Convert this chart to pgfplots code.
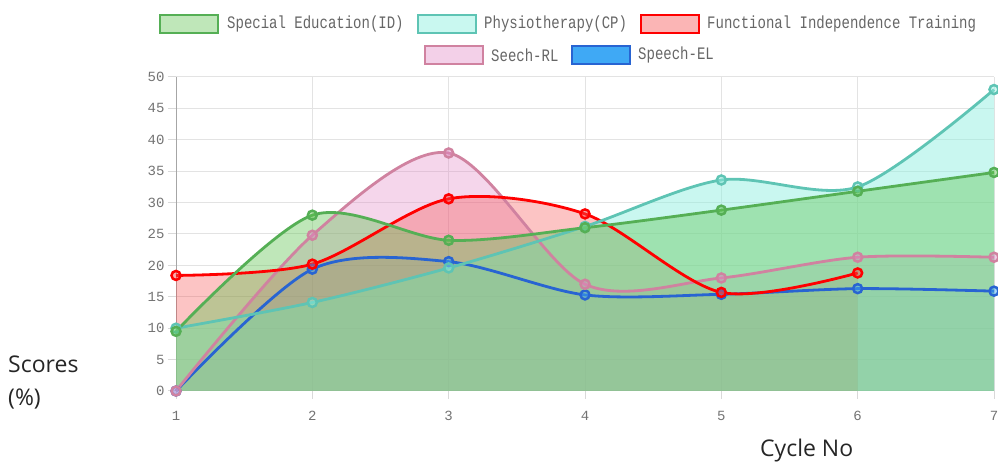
\documentclass[border=0pt]{standalone}
\usepackage{fontspec}
\usepackage{pgfplots}
\pgfplotsset{compat=1.18}
\setmainfont{Open Sans}
\newfontfamily\monof{Liberation Mono}
\definecolor{gLine}{RGB}{85,175,85}
\definecolor{gFill}{RGB}{96,196,80}
\definecolor{tLine}{RGB}{94,196,180}
\definecolor{tFill}{RGB}{147,240,225}
\definecolor{rLine}{RGB}{255,0,0}
\definecolor{rFill}{RGB}{245,70,70}
\definecolor{pLine}{RGB}{208,130,160}
\definecolor{pFill}{RGB}{225,137,197}
\definecolor{bLine}{RGB}{40,100,210}
\definecolor{bFill}{RGB}{63,169,245}
\definecolor{txt}{RGB}{102,102,102}
\newcommand\legtxt[1]{\scalebox{1}[1.25]{#1}}
\pgfplotsset{
  filler/.style={draw=none, fill=#1, fill opacity=0.4, smooth, tension=0.5, forget plot},
  liner/.style 2 args={draw=#1, line width=2.8pt, smooth, tension=0.5, mark=*, mark size=4.5pt,
    mark options={solid, draw=#1, fill=#2, fill opacity=0.45, line width=2.5pt}, forget plot},
}
\begin{document}
\begin{tikzpicture}
\path[use as bounding box] (-176pt,-71pt) rectangle (822pt,391pt);
\begin{axis}[
  at={(0pt,0pt)}, anchor=south west,
  scale only axis, width=818pt, height=314pt,
  xmin=1, xmax=7, ymin=0, ymax=50,
  xtick={1,2,3,4,5,6,7}, ytick={0,5,...,50},
  grid=major, grid style={draw=black!11, line width=1pt},
  axis x line=bottom, axis y line=left,
  x axis line style={-, draw=black!15, line width=1pt},
  y axis line style={-, draw=black!35, line width=1pt},
  tick align=outside, major tick length=8pt,
  tick style={draw=black!15, line width=1pt},
  ticklabel style={font=\monof\fontsize{14}{14}\selectfont, text=black!55},
  /pgf/number format/assume math mode=true,
  xticklabel style={yshift=-9pt},
  clip=false,
]
% ---- fills (last series at the bottom) ----
\addplot[filler=bFill, fill opacity=0.22] coordinates {(1,0)(2,19.4)(3,20.6)(4,15.3)(5,15.4)(6,16.3)(7,15.9)} \closedcycle;
\addplot[filler=pFill, fill opacity=0.35] coordinates {(1,0)(2,24.8)(3,37.9)(4,17)(5,18)(6,21.3)(7,21.3)} \closedcycle;
\addplot[filler=rFill, fill opacity=0.32] coordinates {(1,18.4)(2,20.2)(3,30.6)(4,28.2)(5,15.7)(6,18.8)} \closedcycle;
\addplot[filler=tFill, fill opacity=0.5] coordinates {(1,10)(2,14.1)(3,19.6)(4,26.2)(5,33.6)(6,32.5)(7,48)} \closedcycle;
\addplot[filler=gFill] coordinates {(1,9.5)(2,28)(3,24)(4,26)(5,28.8)(6,31.8)(7,34.8)} \closedcycle;
% ---- lines ----
\addplot[liner={bLine}{bFill}] coordinates {(1,0)(2,19.4)(3,20.6)(4,15.3)(5,15.4)(6,16.3)(7,15.9)};
\addplot[liner={pLine}{pFill}] coordinates {(1,0)(2,24.8)(3,37.9)(4,17)(5,18)(6,21.3)(7,21.3)};
\addplot[liner={rLine}{rFill}] coordinates {(1,18.4)(2,20.2)(3,30.6)(4,28.2)(5,15.7)(6,18.8)};
\addplot[liner={tLine}{tFill}] coordinates {(1,10)(2,14.1)(3,19.6)(4,26.2)(5,33.6)(6,32.5)(7,48)};
\addplot[liner={gLine}{gFill}] coordinates {(1,9.5)(2,28)(3,24)(4,26)(5,28.8)(6,31.8)(7,34.8)};
\end{axis}
% legend
\tikzset{legbox/.style={line width=2.5pt}, legtext/.style={anchor=west, inner sep=0pt, text=txt, font=\monof\fontsize{14}{14}\selectfont}}
\draw[legbox, draw=gLine, fill=gFill!40!white] (-16pt,358.2pt) rectangle (42pt,376.2pt);
\node[legtext] at (51pt,367.2pt) {\legtxt{Special Education(ID)}};
\draw[legbox, draw=tLine, fill=tFill!50!white] (242pt,358.2pt) rectangle (300pt,376.2pt);
\node[legtext] at (308pt,367.2pt) {\legtxt{Physiotherapy(CP)}};
\draw[legbox, draw=rLine, fill=rFill!40!white] (465pt,358.2pt) rectangle (523pt,376.2pt);
\node[legtext] at (531pt,367.2pt) {\legtxt{Functional Independence Training}};
\draw[legbox, draw=pLine, fill=pFill!40!white] (249pt,327pt) rectangle (307pt,345pt);
\node[legtext] at (315pt,336pt) {\legtxt{Seech-RL}};
\draw[legbox, draw=bLine, fill=bFill] (396pt,327pt) rectangle (454pt,345pt);
\node[legtext] at (462pt,336pt) {\legtxt{Speech-EL}};
% axis titles
\node[anchor=base west, inner sep=0pt, text=black!85, font=\fontsize{23}{23}\selectfont] at (-168pt,18.3pt) {Scores};
\node[anchor=base west, inner sep=0pt, text=black!85, font=\fontsize{23}{23}\selectfont] at (-168pt,-15pt) {(\%)};
\node[anchor=base west, inner sep=0pt, text=black!85, font=\fontsize{23}{23}\selectfont] at (584pt,-66pt) {Cycle No};
\end{tikzpicture}
\end{document}
